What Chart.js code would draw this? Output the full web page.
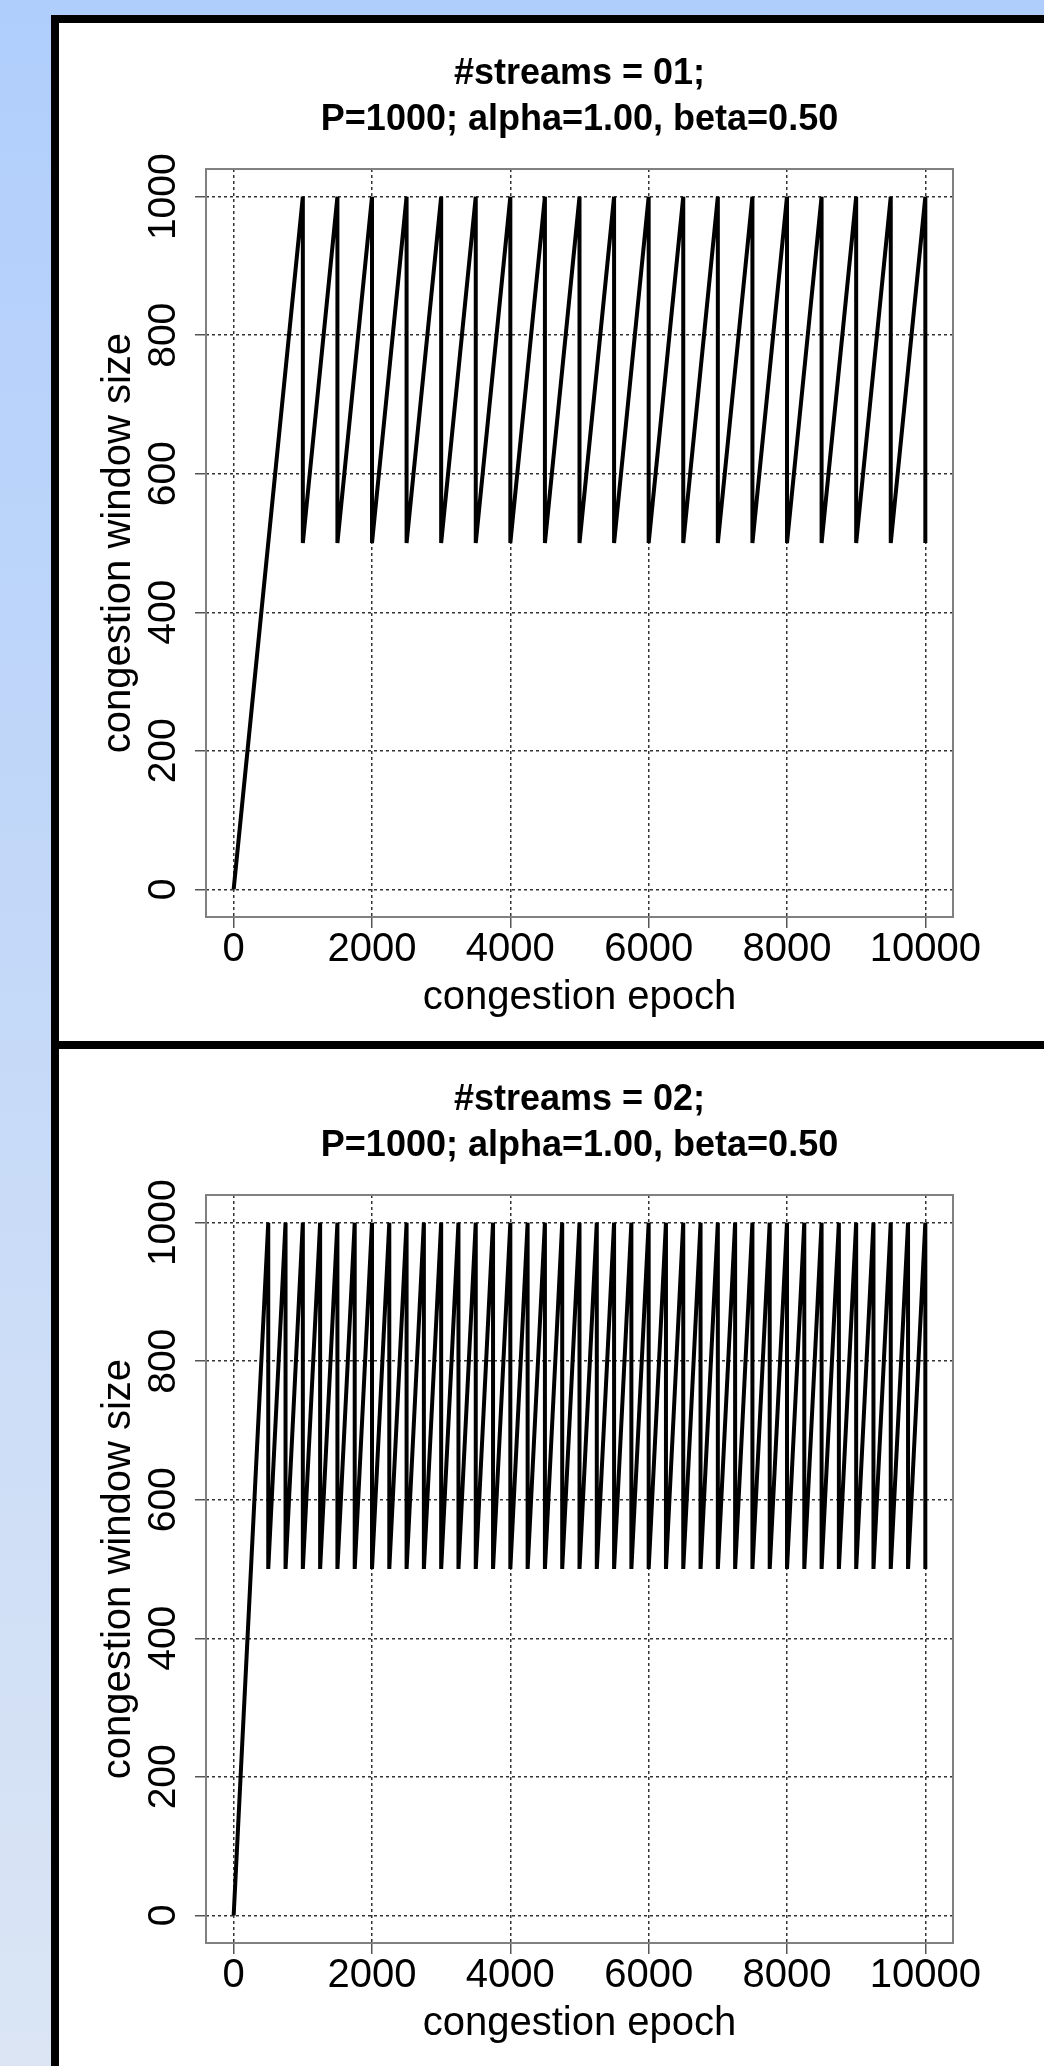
<!DOCTYPE html>
<html>
<head>
<meta charset="utf-8">
<script src="https://cdn.jsdelivr.net/npm/chart.js@4.4.1/dist/chart.umd.min.js"></script>
<style>
  html, body { margin: 0; padding: 0; }
  body {
    width: 1044px; height: 2066px; overflow: hidden; position: relative;
    background: linear-gradient(to bottom, #b0cefc, #dbe5f4);
  }
  .panel {
    position: absolute; left: 51px; width: 1041px; height: 1018px;
    border: 8px solid #000; background: #fff;
  }
  #panel1 { top: 15px; }
  #panel2 { top: 1041px; }
  canvas { display: block; }
</style>
</head>
<body>
<div class="panel" id="panel1"><canvas id="chart1" width="1041" height="1018"></canvas></div>
<div class="panel" id="panel2"><canvas id="chart2" width="1041" height="1018"></canvas></div>
<script>
// --- DATA ---
// Sawtooth vertices: window climbs to P=1000, halves (beta=0.5), climbs again.
const epochs01 = [0, 1000, 1000, 1500, 1500, 2000, 2000, 2500, 2500, 3000, 3000, 3500, 3500,
    4000, 4000, 4500, 4500, 5000, 5000, 5500, 5500, 6000, 6000, 6500, 6500, 7000, 7000,
    7500, 7500, 8000, 8000, 8500, 8500, 9000, 9000, 9500, 9500, 10000, 10000];
const cwnd01 = [0, 1000, 500, 1000, 500, 1000, 500, 1000, 500, 1000, 500, 1000, 500,
    1000, 500, 1000, 500, 1000, 500, 1000, 500, 1000, 500, 1000, 500, 1000, 500,
    1000, 500, 1000, 500, 1000, 500, 1000, 500, 1000, 500, 1000, 500];

const epochs02 = [0, 500, 500, 750, 750, 1000, 1000, 1250, 1250, 1500, 1500, 1750, 1750,
    2000, 2000, 2250, 2250, 2500, 2500, 2750, 2750, 3000, 3000, 3250, 3250, 3500, 3500,
    3750, 3750, 4000, 4000, 4250, 4250, 4500, 4500, 4750, 4750, 5000, 5000, 5250, 5250,
    5500, 5500, 5750, 5750, 6000, 6000, 6250, 6250, 6500, 6500, 6750, 6750, 7000, 7000,
    7250, 7250, 7500, 7500, 7750, 7750, 8000, 8000, 8250, 8250, 8500, 8500, 8750, 8750,
    9000, 9000, 9250, 9250, 9500, 9500, 9750, 9750, 10000, 10000];
const cwnd02 = [0, 1000, 500, 1000, 500, 1000, 500, 1000, 500, 1000, 500, 1000, 500,
    1000, 500, 1000, 500, 1000, 500, 1000, 500, 1000, 500, 1000, 500, 1000, 500,
    1000, 500, 1000, 500, 1000, 500, 1000, 500, 1000, 500, 1000, 500, 1000, 500,
    1000, 500, 1000, 500, 1000, 500, 1000, 500, 1000, 500, 1000, 500, 1000, 500,
    1000, 500, 1000, 500, 1000, 500, 1000, 500, 1000, 500, 1000, 500, 1000, 500,
    1000, 500, 1000, 500, 1000, 500, 1000, 500, 1000, 500];

const xTicks = [0, 2000, 4000, 6000, 8000, 10000];
const yTicks = [0, 200, 400, 600, 800, 1000];
// R pads the data range by 4% on each side
const xRange = [-400, 10400];
const yRange = [-40, 1040];

const subtitle = 'P=1000; alpha=1.00, beta=0.50';
const xTitle = 'congestion epoch';
const yTitle = 'congestion window size';

// --- STYLE ---
const FONT = "'Liberation Sans', Arial, Helvetica, sans-serif";
const gridStyle = {
    color: '#333', lineWidth: 1.5,
    tickLength: 11, tickColor: '#555', tickWidth: 1.5, tickBorderDash: []
};
// in v4 the dash of the grid lines lives under border, not grid
const borderStyle = { display: false, dash: [3, 3] };

// R's box() around the plot region
const plotBox = {
    id: 'plotBox',
    afterDraw(chart) {
        const { ctx, chartArea: a } = chart;
        ctx.save();
        ctx.strokeStyle = '#808080';
        ctx.lineWidth = 2;
        ctx.strokeRect(a.left, a.top, a.right - a.left, a.bottom - a.top);
        ctx.restore();
    }
};

function makeChart(canvasId, streams, xs, ys) {
    const points = xs.map((x, i) => ({ x: x, y: ys[i] }));
    return new Chart(document.getElementById(canvasId), {
        type: 'line',
        data: {
            datasets: [{
                data: points, borderColor: '#000', borderWidth: 4,
                pointRadius: 0, tension: 0, fill: false
            }]
        },
        options: {
            responsive: false,
            animation: false,
            layout: { padding: 0 },
            plugins: {
                legend: { display: false },
                tooltip: { enabled: false },
                title: {
                    display: true,
                    text: ['#streams = ' + streams + ';', subtitle],
                    color: '#000',
                    font: { family: FONT, size: 36, weight: 'bold', lineHeight: 1.278 },
                    padding: { top: 28, bottom: 26 }
                }
            },
            scales: {
                x: {
                    type: 'linear', min: xRange[0], max: xRange[1],
                    afterBuildTicks: axis => { axis.ticks = xTicks.map(v => ({ value: v })); },
                    afterFit: axis => { axis.height = 124; },
                    ticks: {
                        color: '#000', autoSkip: false, maxRotation: 0, padding: 2,
                        font: { family: FONT, size: 40, lineHeight: 1 },
                        callback: v => String(v)
                    },
                    grid: gridStyle,
                    border: borderStyle,
                    title: {
                        display: true, text: xTitle, color: '#000',
                        font: { family: FONT, size: 40, lineHeight: 1 },
                        padding: { top: 0, bottom: 23 }
                    }
                },
                y: {
                    type: 'linear', min: yRange[0], max: yRange[1],
                    afterBuildTicks: axis => { axis.ticks = yTicks.map(v => ({ value: v })); },
                    afterFit: axis => { axis.width = 147; },
                    ticks: {
                        color: '#000', autoSkip: false, minRotation: 90, maxRotation: 90,
                        crossAlign: 'center', padding: -13,
                        font: { family: FONT, size: 39, lineHeight: 1 },
                        callback: v => String(v)
                    },
                    grid: gridStyle,
                    border: borderStyle,
                    title: {
                        display: true, text: yTitle, color: '#000',
                        font: { family: FONT, size: 40, lineHeight: 1 },
                        padding: { top: 40, bottom: 0 }
                    }
                },
                // empty right axis so the title centres over the plot region, as in R
                y2: {
                    position: 'right', display: true,
                    ticks: { display: false },
                    grid: { display: false },
                    border: { display: false },
                    afterFit: axis => { axis.width = 147; }
                }
            }
        },
        plugins: [plotBox]
    });
}

makeChart('chart1', '01', epochs01, cwnd01);
makeChart('chart2', '02', epochs02, cwnd02);
</script>
</body>
</html>
